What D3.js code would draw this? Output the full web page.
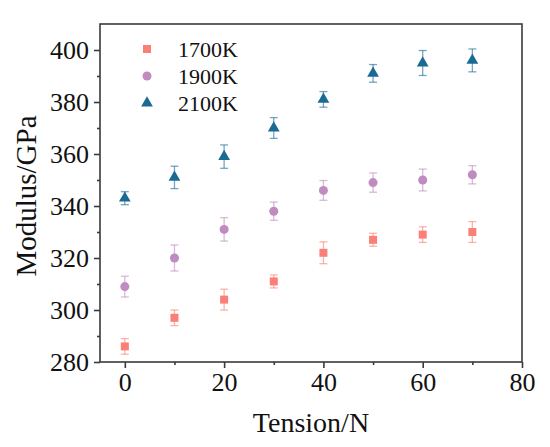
<!DOCTYPE html>
<html>
<head>
<meta charset="utf-8">
<script src="https://cdn.jsdelivr.net/npm/d3@7"></script>
<style>
  body { margin: 0; background: #fff; }
  text { font-family: "Times New Roman", "Liberation Serif", serif; }
</style>
</head>
<body>
<div></div>
<script>
// data
var tension = [0, 10, 20, 30, 40, 50, 60, 70];
var mod1700 = [286, 297, 304, 311, 322, 327, 329, 330];
var err1700 = [3, 3, 4, 2.5, 4.2, 2.5, 3, 4];
var mod1900 = [309, 320, 331, 338, 346, 349, 350, 352];
var err1900 = [4, 5, 4.5, 3.5, 3.8, 3.7, 4.2, 3.5];
var mod2100 = [343, 351, 359, 370, 381, 391, 395, 396];
var err2100 = [2.5, 4.3, 4.5, 4, 3, 3.4, 4.8, 4.4];
var seriesNames = ["1700K", "1900K", "2100K"];
var xTicks = [0, 20, 40, 60, 80];
var xMinor = [10, 30, 50, 70];
var yTicks = [280, 300, 320, 340, 360, 380, 400];
var yMinor = [290, 310, 330, 350, 370, 390];

var W = 550, H = 447;
// plot box (don't call it "top", that's window.top)
var padL = 100, padT = 24, padR = 522, padB = 362;
var axisColor = "#3a3a3a";

var series = [
    {name: seriesNames[0], vals: mod1700, errs: err1700, color: "#fa7f77", shape: d3.symbolSquare, size: 64},
    {name: seriesNames[1], vals: mod1900, errs: err1900, color: "#c08bc0", shape: d3.symbolCircle, size: 64},
    {name: seriesNames[2], vals: mod2100, errs: err2100, color: "#1b6a94", shape: d3.symbolTriangle, size: 60}
];

var svg = d3.select("div").append("svg")
        .attr("width", W)
        .attr("height", H);

var x = d3.scaleLinear().domain([-5, 80]).range([padL, padR]);
var y = d3.scaleLinear().domain([280, 410]).range([padB, padT]);

// frame
svg.append("rect")
    .attr("x", padL).attr("y", padT)
    .attr("width", padR - padL).attr("height", padB - padT)
    .attr("fill", "none").attr("stroke", axisColor).attr("stroke-width", 1.6);

var styleAxis = function(g) {
    g.select(".domain").remove();
    g.selectAll(".tick line").attr("stroke", axisColor).attr("stroke-width", 1.6);
    g.selectAll(".tick text").attr("fill", "#111").attr("font-size", 26)
        .style("font-family", "'Times New Roman', 'Liberation Serif', serif");
};

svg.append("g").attr("transform", "translate(0," + padB + ")")
    .call(d3.axisBottom(x).tickValues(xTicks).tickSize(6).tickPadding(5).tickFormat(d3.format("d")))
    .call(styleAxis);
svg.append("g").attr("transform", "translate(0," + padB + ")")
    .call(d3.axisBottom(x).tickValues(xMinor).tickSize(3).tickFormat(""))
    .call(styleAxis);
svg.append("g").attr("transform", "translate(" + padL + ",0)")
    .call(d3.axisLeft(y).tickValues(yTicks).tickSize(6).tickPadding(5).tickFormat(d3.format("d")))
    .call(styleAxis);
svg.append("g").attr("transform", "translate(" + padL + ",0)")
    .call(d3.axisLeft(y).tickValues(yMinor).tickSize(3).tickFormat(""))
    .call(styleAxis);

// axis titles
svg.append("text")
    .attr("x", (padL + padR) / 2).attr("y", 432)
    .attr("text-anchor", "middle").attr("font-size", 28).attr("fill", "#111")
    .text("Tension/N");
svg.append("text")
    .attr("transform", "translate(36," + 196 + ") rotate(-90)")
    .attr("text-anchor", "middle").attr("font-size", 29).attr("fill", "#111")
    .text("Modulus/GPa");

// error bars and markers
series.forEach(function(s) {
    var g = svg.append("g");
    tension.forEach(function(t, i) {
        var cx = x(t), lo = y(s.vals[i] - s.errs[i]), hi = y(s.vals[i] + s.errs[i]);
        var eb = g.append("g").attr("stroke", s.color).attr("stroke-opacity", 0.6).attr("stroke-width", 1.3);
        eb.append("line").attr("x1", cx).attr("x2", cx).attr("y1", lo).attr("y2", hi);
        eb.append("line").attr("x1", cx - 4).attr("x2", cx + 4).attr("y1", lo).attr("y2", lo);
        eb.append("line").attr("x1", cx - 4).attr("x2", cx + 4).attr("y1", hi).attr("y2", hi);
        g.append("path")
            .attr("d", d3.symbol().type(s.shape).size(s.size)())
            .attr("transform", "translate(" + cx + "," + y(s.vals[i]) + ")")
            .attr("fill", s.color);
    });
});

// legend
series.forEach(function(s, i) {
    var ly = 49 + i * 27;
    svg.append("path")
        .attr("d", d3.symbol().type(s.shape).size(s.size)())
        .attr("transform", "translate(147," + ly + ")")
        .attr("fill", s.color);
    svg.append("text")
        .attr("x", 178).attr("y", ly + 7.5)
        .attr("font-size", 22).attr("fill", "#111")
        .text(s.name);
});
</script>
</body>
</html>
